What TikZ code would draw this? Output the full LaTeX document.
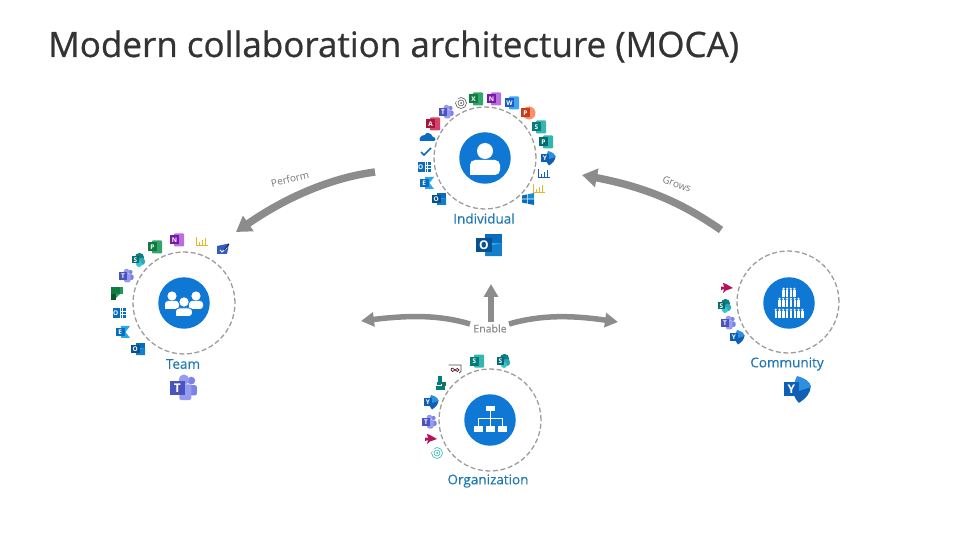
\documentclass[tikz,border=0pt]{standalone}
\usepackage{fontspec}
\setmainfont{Open Sans}
\newfontfamily\heavyish{Open Sans}[FakeBold=0.7]
\newfontfamily\semi{Open Sans}[FakeBold=0.4]
\usetikzlibrary{arrows.meta}
\definecolor{ttl}{HTML}{333333}
\definecolor{lbl}{HTML}{1F78B4}
\definecolor{disc}{HTML}{0F78D4}
\definecolor{ring}{HTML}{9C9C9C}
\definecolor{flowc}{HTML}{8C8C8C}
\definecolor{olb}{HTML}{0A6CBE}
\definecolor{oll}{HTML}{28A8EA}
\definecolor{tmd}{HTML}{4B53BC}
\definecolor{tml}{HTML}{7B83EB}
\definecolor{spd}{HTML}{036C70}
\definecolor{spl}{HTML}{37C6D0}
\definecolor{ymd}{HTML}{0F5FB4}
\definecolor{yml}{HTML}{2E8FE0}
\definecolor{xld}{HTML}{107C41}
\definecolor{xll}{HTML}{33A56C}
\definecolor{ond}{HTML}{7719AA}
\definecolor{onl}{HTML}{BA6FDC}
\definecolor{wdd}{HTML}{185ABD}
\definecolor{wdl}{HTML}{41A5EE}
\definecolor{ppd}{HTML}{C43E1C}
\definecolor{ppl}{HTML}{FF8F6B}
\definecolor{swd}{HTML}{037C7C}
\definecolor{swl}{HTML}{37B5B0}
\definecolor{pbd}{HTML}{036C70}
\definecolor{pbl}{HTML}{31B5AE}
\definecolor{acd}{HTML}{A4173C}
\definecolor{acl}{HTML}{D5436A}
\definecolor{pbi}{HTML}{E8B820}
\definecolor{mag}{HTML}{B3125C}
\definecolor{pln}{HTML}{0F7B3E}
\tikzset{
  x=1bp, y=-1bp,
  title/.style={anchor=base west, inner sep=0pt, text=ttl, font=\heavyish\fontsize{35bp}{40bp}\selectfont},
  name label/.style={anchor=center, inner sep=0pt, text=lbl, font=\semi\fontsize{13.5bp}{16bp}\selectfont},
  arc label/.style={anchor=center, inner sep=0pt, text=flowc!85!black, font=\fontsize{10bp}{12bp}\selectfont},
  ringc/.style={draw=ring, line width=1.3bp, dash pattern=on 5bp off 2.6bp},
  discn/.style={circle, fill=disc, minimum size=51.5bp, inner sep=0pt},
  flow/.style={draw=flowc, line width=7.5bp, -{Triangle[length=15bp,width=18bp]}},
  thinflow/.style={draw=flowc, line width=5.5bp, -{Triangle[length=13bp,width=14bp]}},
  wf/.style={fill=white, draw=none},
  wfo/.style={fill=white, draw=disc, line width=.8bp},
  letter/.style={inner sep=0pt, text=white, font=\fontsize{6.5bp}{7bp}\selectfont\bfseries},
  pics/doc/.style n args={3}{code={
    \fill[#2, rounded corners=.8bp] (-3,-6.5) rectangle (7,6.5);
    \fill[#1] (-7,-4.5) rectangle (2,4.5);
    \node[letter] (-l) at (-2.5,0) {#3};
  }},
  pics/ppt/.style={code={
    \fill[ppl] (1,0) circle (6.5bp);
    \fill[ppd] (-7,-4.5) rectangle (2,4.5);
    \node[letter] (-l) at (-2.5,0) {P};
  }},
  pics/teams/.style={code={
    \fill[tml] (4.5,-4) circle (2.1bp);
    \fill[tml, rounded corners=1.5bp] (2,-1.5) rectangle (7.5,4);
    \fill[tml!80!white] (0.5,-4.5) circle (2.8bp);
    \fill[tml!80!white, rounded corners=2bp] (-2,-2) rectangle (4.5,6.5);
    \fill[tmd] (-7,-4) rectangle (1,4);
    \node[letter] (-l) at (-3,0) {T};
  }},
  pics/sp/.style={code={
    \fill[spd!80!spl] (1.5,-2.5) circle (4.6bp);
    \fill[spl!70!spd] (3.5,1.5) circle (3.7bp);
    \fill[spl] (1,4) circle (3bp);
    \fill[spd] (-6.5,-4) rectangle (1,3.5);
    \node[letter] (-l) at (-2.7,-.2) {S};
  }},
  pics/yam/.style={code={
    \fill[ymd] (-2,1) -- (7.5,-2) .. controls (7.5,2) and (5,5) .. (1,7.5) .. controls (-1,5.5) and (-2,3) .. (-2,1) -- cycle;
    \fill[yml] (0,-7) .. controls (4,-6) and (7.5,-4) .. (7.5,-1) -- (-2,2) .. controls (-2,-2) and (-1,-5) .. (0,-7) -- cycle;
    \fill[ymd] (-7,-4) rectangle (1,4);
    \node[letter] (-l) at (-3,0) {Y};
  }},
  pics/outl/.style={code={
    \fill[olb] (-2,-6) rectangle (7,-1);
    \fill[oll] (-2,-1) rectangle (7,6);
    \fill[olb!70!oll] (-2,1) -- (7,-1) -- (7,6) -- (-2,6) -- cycle;
    \fill[olb!75!black] (-7,-4) rectangle (1.5,4);
    \node[letter] (-l) at (-2.7,0) {O};
  }},
  pics/exch/.style={code={
    \fill[oll] (-2,-6) -- (7,-6) -- (2.5,0) -- (7,6) -- (-2,6) -- cycle;
    \fill[olb] (-7,-4) rectangle (1.5,4);
    \node[letter] (-l) at (-2.7,0) {E};
  }},
  pics/swirl/.style={code={
    \draw[#1, line width=.6bp] (0,0) circle (5.5bp);
    \draw[white, line width=1.2bp] (-3,-5) -- (-6,-1);
    \draw[#1, line width=.6bp] (0,0) circle (3bp);
    \fill[#1] (0,0) circle (1bp);
  }},
  pics/cloud/.style={code={
    \fill[olb] (-7,3) -- (7,3) .. controls (9,3) and (9,-1) .. (6,-1) .. controls (4,-6) and (-2,-6) .. (-2,-3) .. controls (-7,-3) and (-8,1) .. (-7,3) -- cycle;
  }},
  pics/chk/.style={code={
    \draw[#1, line width=1.7bp] (-5,0) -- (-2,3) -- (5,-4);
  }},
  pics/bars/.style={code={
    \draw[#1, line width=.7bp] (-5.5,-4) -- (-5.5,4) -- (5.5,4);
    \draw[#1, line width=1.1bp] (-2.5,4) -- (-2.5,1) (0.5,4) -- (0.5,-1) (3.5,4) -- (3.5,-3);
  }},
  pics/win/.style={code={
    \fill[olb] (-6,-3.5) -- (-.6,-4.6) -- (-.6,-.4) -- (-6,-.4) -- cycle;
    \fill[oll!50!olb] (.2,-4.8) -- (6,-6) -- (6,-.4) -- (.2,-.4) -- cycle;
    \fill[olb] (-6,.4) -- (-.6,.4) -- (-.6,4.6) -- (-6,3.5) -- cycle;
    \fill[olb] (.2,.4) -- (6,.4) -- (6,6) -- (.2,4.8) -- cycle;
  }},
  pics/plane/.style={code={
    \fill[mag] (-6,-1.5) -- (-3,-1) -- (-4,-5) -- (-1,-4) -- (6,0) -- (-1,2.5) -- (-4,5) -- (-3,1) -- (-6,2) -- cycle;
  }},
  pics/plan/.style={code={
    \fill[pln] (-6,-6) rectangle (3,1);
    \fill[pln!70!black] (-6,1) rectangle (-1,7);
    \fill[xll] (-1,1) -- (3,1) -- (-1,5) -- cycle;
    \fill[xll!60!pln] (3,-6) rectangle (6,1);
  }},
  pics/stream/.style={code={
    \fill[olb] (-6.5,-4.5) rectangle (6.5,5);
    \node[letter] (-l) at (-3.2,.2) {O};
    \draw[white, line width=.7bp] (1,-4.5) -- (1,5) (1,-1.5) -- (6.5,-1.5) (1,1.7) -- (6.5,1.7) (3.8,-4.5) -- (3.8,5);
  }},
  pics/todo/.style={code={
    \fill[tmd!65!olb] (-6,-3) -- (6,-5.5) -- (4,5) -- (-6,5) -- cycle;
    \draw[white, line width=.9bp] (-3,1) -- (-1,3) -- (4,-1.5);
    \draw[black!70!tmd, line width=.8bp] (1,1) -- (6,-5);
  }},
  pics/boxinf/.style={code={
    \draw[black!70, line width=.7bp] (-6.5,-4) -- (6,-4) -- (6,2.5) -- (4,4);
    \draw[mag!50!black, line width=.7bp] (-4,1) .. controls (-4,-2) and (-1,-1) .. (0,1) .. controls (1,3) and (4,3) .. (4,1) .. controls (4,-1) and (1,-1) .. (0,1) .. controls (-1,3) and (-4,3) .. (-4,1) -- cycle;
  }},
  pics/skyp/.style={code={
    \fill[swd] (-2,-7) rectangle (2,1);
    \fill[swd] (-3,-1) rectangle (1,2);
    \fill[xld] (2,-1) rectangle (6,3);
    \fill[swd] (-4,2.5) rectangle (5,7);
  }},
}
\begin{document}
\begin{tikzpicture}
\useasboundingbox (0,0) rectangle (979,551);
\node[title] (title) at (48,57) {Modern collaboration architecture (MOCA)};

% ---------- rings and discs
\draw[ringc] (485,158) circle (51bp);
\draw[ringc] (184,303) circle (51bp);
\draw[ringc] (788,302) circle (51bp);
\draw[ringc] (490,420) circle (51bp);
\node[discn] (ind) at (485,158) {};
\node[discn] (team) at (184,303) {};
\node[discn] (comm) at (789,303) {};
\node[discn] (org) at (490,420) {};

% person
\begin{scope}[shift={(485,158)}]
  \fill[wf] (0,-7) circle (8bp);
  \fill[wf, rounded corners=5bp] (-15,17) -- (-15,2) -- (15,2) -- (15,17) [sharp corners] -- cycle;
\end{scope}
% group
\begin{scope}[shift={(184,303)}]
  \foreach \dx in {-12,12}{
    \fill[wf] (\dx,-7) circle (4.6bp);
    \fill[wf, rounded corners=3bp] (\dx-7,6) -- (\dx-7,-2) -- (\dx+7,-2) -- (\dx+7,6) [sharp corners] -- cycle;
  }
  \fill[wfo] (0,-1) circle (5.2bp);
  \fill[wfo, rounded corners=3.5bp] (-8.5,13.5) -- (-8.5,5) -- (8.5,5) -- (8.5,13.5) [sharp corners] -- cycle;
\end{scope}
% crowd
\begin{scope}[shift={(789,303)}]
  \foreach \yy/\xs in {-10/{-5.4,-1.8,1.8,5.4}, 0/{-9.5,-5.7,-1.9,1.9,5.7,9.5}, 11/{-13.3,-9.5,-5.7,-1.9,1.9,5.7,9.5,13.3}}{
    \foreach \xx in \xs {
      \fill[wf] (\xx,\yy-4.2) circle (1.2bp);
      \fill[wf] (\xx-1.2,\yy-2.6) rectangle (\xx+1.2,\yy+4);
    }
  }
\end{scope}
% hierarchy
\begin{scope}[shift={(490,420)}]
  \draw[white, line width=.8bp] (0,-10) -- (0,-2) (-12,6) -- (-12,-2) -- (12,-2) -- (12,6) (0,-2) -- (0,6);
  \fill[wf] (-4.5,-14.5) rectangle (4.5,-9);
  \foreach \xx in {-12,0,12}{\fill[wf] (\xx-4.5,6) rectangle (\xx+4.5,11.5);}
\end{scope}

% ---------- labels
\node[name label] (lind) at (484,218.5) {Individual};
\node[name label] (lteam) at (183,364) {Team};
\node[name label] (lcomm) at (787,364) {Community};
\node[name label] (lorg) at (488,481) {Organization};
\node[arc label, rotate=14] (lperf) at (290,179) {Perform};
\node[arc label, rotate=-20] (lgrow) at (677,184) {Grows};
\node[anchor=center, inner sep=0pt, text=flowc, font=\semi\fontsize{10.5bp}{12bp}\selectfont] (enable) at (490,328.5) {Enable};

% ---------- connectors
\coordinate (ps) at (375,172);
\coordinate (pe) at (236,232);
\coordinate (gs) at (721,230);
\coordinate (ge) at (582,175);
\coordinate (eu0) at (491,322);
\coordinate (eu1) at (491,284);
\coordinate (el0) at (470,324);
\coordinate (el1) at (361,321);
\coordinate (er0) at (509,324);
\coordinate (er1) at (618,322);
\draw[flow] (ps) .. controls (330,178) and (285,198) .. (pe);
\draw[flow] (gs) .. controls (685,205) and (650,188) .. (ge);
\draw[thinflow] (eu0) -- (eu1);
\draw[thinflow] (el0) .. controls (440,315) and (410,315) .. (el1);
\draw[thinflow] (er0) .. controls (540,315) and (570,315) .. (er1);

% ---------- Individual apps
\pic (a1) at (461,103) {swirl=black!65};
\pic (a2) at (476,99) {doc={xld}{xll}{X}};
\pic (a3) at (494,99) {doc={ond}{onl}{N}};
\pic (a4) at (512,103) {doc={wdd}{wdl}{W}};
\pic (a5) at (528,113) {ppt};
\pic (a6) at (539,127) {doc={swd}{swl}{S}};
\pic (a7) at (546,142) {doc={pbd}{pbl}{P}};
\pic (a8) at (548,158) {yam};
\pic (a9) at (544,173) {bars=wdd};
\pic (a10) at (539,188) {bars=pbi};
\pic (a11) at (528,199) {win};
\pic (a12) at (439,199) {outl};
\pic (a13) at (427,183) {exch};
\pic (a14) at (424,167) {stream};
\pic (a15) at (426,152) {chk=olb};
\pic (a16) at (427,138) {cloud};
\pic (a17) at (433,124) {doc={acd}{acl}{A}};
\pic (a18) at (446,112) {teams};
\pic[scale=1.85, transform shape] (a19) at (489,245) {outl};

% ---------- Team apps
\pic (b1) at (155,247) {doc={pln}{xll}{P}};
\pic (b2) at (177,240) {doc={ond}{onl}{N}};
\pic (b3) at (202,241) {bars=pbi};
\pic (b4) at (223,249) {todo};
\pic (b5) at (138,260) {sp};
\pic (b6) at (126,276) {teams};
\pic (b7) at (117,293) {plan};
\pic (b8) at (119,313) {stream};
\pic (b9) at (123,332) {exch};
\pic (b10) at (138,349) {outl};
\pic[scale=1.85, transform shape] (b11) at (183,388) {teams};

% ---------- Community apps
\pic (c1) at (727,288) {plane};
\pic (c2) at (724,306) {sp};
\pic (c3) at (728,323) {teams};
\pic (c4) at (737,337) {yam};
\pic[scale=1.85, transform shape] (c5) at (797,389) {yam};

% ---------- Organization apps
\pic (d1) at (477,361) {doc={swd}{swl}{S}};
\pic (d2) at (503,361) {sp};
\pic (d3) at (455,369) {boxinf};
\pic (d4) at (440,383) {skyp};
\pic (d5) at (431,402) {yam};
\pic (d6) at (429,422) {teams};
\pic (d7) at (431,439) {plane};
\pic (d8) at (437,453) {swirl=swl};
\end{tikzpicture}
\end{document}
